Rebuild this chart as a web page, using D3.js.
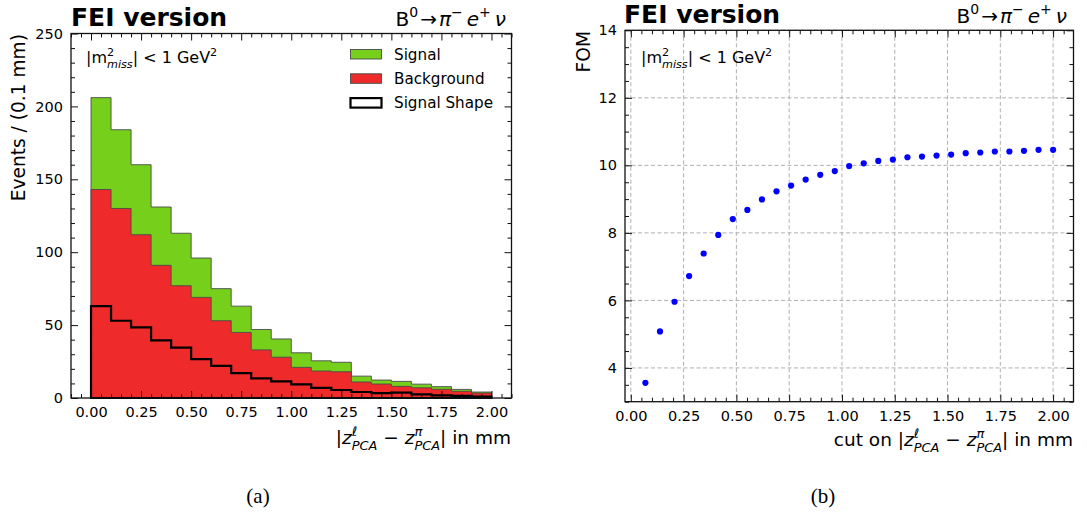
<!DOCTYPE html>
<html>
<head>
<meta charset="utf-8">
<script src="https://cdn.jsdelivr.net/npm/d3@7"></script>
<style>
  body { margin: 0; background: #fff; }
  svg { display: block; }
  text { font-family: "DejaVu Sans", sans-serif; fill: #000; white-space: pre; }
</style>
</head>
<body>
<svg id="fig" width="1087" height="516"></svg>
<script>
// ---- histogram data: |z_PCA^l - z_PCA^pi| in bins of 0.1 mm ----
const binEdges = [0.0, 0.1, 0.2, 0.3, 0.4, 0.5, 0.6, 0.7, 0.8, 0.9, 1.0,
                  1.1, 1.2, 1.3, 1.4, 1.5, 1.6, 1.7, 1.8, 1.9, 2.0];
const backgroundCounts = [143, 130, 112, 91, 77, 69, 53, 45, 33, 28,
                          21, 18.5, 18, 11, 9.6, 8, 7, 6, 4.6, 3.4];
const signalCounts = [63, 54, 48, 40, 36, 27, 22, 18, 14, 12.5,
                      10, 7, 6.5, 4, 2.7, 3.4, 2.5, 1.8, 1.3, 0.7];
const signalShape = [63, 53, 48.5, 39.5, 34.5, 26.7, 22, 17, 13.5, 11.4,
                     9.4, 7, 5.5, 4.1, 3.4, 3.7, 2.5, 1.8, 1.4, 0.9];

// ---- figure of merit versus the cut value ----
const cutValues = [0.069, 0.138, 0.207, 0.276, 0.345, 0.414, 0.483, 0.552, 0.621, 0.690,
                   0.759, 0.828, 0.897, 0.966, 1.034, 1.103, 1.172, 1.241, 1.310, 1.379,
                   1.448, 1.517, 1.586, 1.655, 1.724, 1.793, 1.862, 1.931, 2.000];
const fomValues = [3.56, 5.08, 5.96, 6.72, 7.39, 7.94, 8.41, 8.68, 8.99, 9.23,
                   9.40, 9.58, 9.72, 9.83, 9.98, 10.06, 10.13, 10.17, 10.24, 10.26,
                   10.29, 10.32, 10.36, 10.38, 10.41, 10.41, 10.43, 10.46, 10.46];

// ---- tick labels ----
const xTicks = [0.00, 0.25, 0.50, 0.75, 1.00, 1.25, 1.50, 1.75, 2.00];
const histYTicks = [0, 50, 100, 150, 200, 250];
const fomYTicks = [4, 6, 8, 10, 12, 14];
const legendLabels = ["Signal", "Background", "Signal Shape"];

const GREEN = "#76d01b", RED = "#ee2a2b", EDGE = "#4a4a4a";
const svg = d3.select("#fig");

// Lays out a mathtext-like label (italics, super/subscripts, stacked scripts).
function mathText(parent, parts, opt) {
  const g = parent.append("g")
    .attr("transform", `translate(${opt.x},${opt.y})` + (opt.rotate ? ` rotate(${opt.rotate})` : ""));
  const inner = g.append("g");
  let cx = 0, lastStart = 0, lastEnd = 0;
  parts.forEach(p => {
    const fs = p.s ? opt.size * 0.7 : opt.size;
    const dy = p.s === "sup" ? -opt.size * 0.42 : p.s === "sub" ? opt.size * 0.3 : 0;
    const start = p.stack ? lastStart : cx;
    const t = inner.append("text")
      .attr("x", start).attr("y", dy)
      .attr("font-size", fs)
      .style("font-style", p.it ? "italic" : "normal")
      .style("font-weight", opt.bold ? "bold" : "normal")
      .text(p.t);
    const w = t.node().getComputedTextLength();
    const end = start + w;
    cx = p.stack ? Math.max(lastEnd, end) : end;
    if (!p.stack) lastStart = start;
    lastEnd = cx;
  });
  const shift = opt.anchor === "end" ? -cx : opt.anchor === "middle" ? -cx / 2 : 0;
  inner.attr("transform", `translate(${shift},0)`);
  return g;
}

// Inward ticks on all four sides, major with labels on bottom/left.
function drawFrame(g, x, y, xMajor, xMinor, yMajor, yMinor, yFmt, box) {
  const tickFont = 14.5;
  const addAxis = (axis, tr, labels) => {
    const a = g.append("g").attr("transform", tr).call(axis);
    a.select(".domain").remove();
    a.selectAll("line").attr("stroke", "#111").attr("stroke-width", 1);
    a.selectAll("text").attr("font-size", tickFont).attr("fill", "#000")
      .style("font-family", "DejaVu Sans");
    if (!labels) a.selectAll("text").remove();
    return a;
  };
  const xMinorOnly = xMinor.filter(v => !xMajor.some(m => Math.abs(m - v) < 1e-9));
  const yMinorOnly = yMinor.filter(v => !yMajor.some(m => Math.abs(m - v) < 1e-9));
  // bottom
  addAxis(d3.axisBottom(x).tickValues(xMajor).tickFormat(d3.format(".2f")).tickSizeInner(-7).tickSizeOuter(0).tickPadding(9), `translate(0,${box.b})`, true);
  addAxis(d3.axisBottom(x).tickValues(xMinorOnly).tickSizeInner(-4).tickSizeOuter(0), `translate(0,${box.b})`, false);
  // top
  addAxis(d3.axisTop(x).tickValues(xMajor).tickSizeInner(-7).tickSizeOuter(0), `translate(0,${box.t})`, false);
  addAxis(d3.axisTop(x).tickValues(xMinorOnly).tickSizeInner(-4).tickSizeOuter(0), `translate(0,${box.t})`, false);
  // left
  addAxis(d3.axisLeft(y).tickValues(yMajor).tickFormat(yFmt).tickSizeInner(-7).tickSizeOuter(0).tickPadding(8), `translate(${box.l},0)`, true);
  addAxis(d3.axisLeft(y).tickValues(yMinorOnly).tickSizeInner(-4).tickSizeOuter(0), `translate(${box.l},0)`, false);
  // right
  addAxis(d3.axisRight(y).tickValues(yMajor).tickSizeInner(-7).tickSizeOuter(0), `translate(${box.r},0)`, false);
  addAxis(d3.axisRight(y).tickValues(yMinorOnly).tickSizeInner(-4).tickSizeOuter(0), `translate(${box.r},0)`, false);
  g.append("rect")
    .attr("x", box.l).attr("y", box.t)
    .attr("width", box.r - box.l).attr("height", box.b - box.t)
    .attr("fill", "none").attr("stroke", "#111").attr("stroke-width", 1.3);
}

const xLabelParts = [
  { t: "|" }, { t: "z", it: true }, { t: "\u2113", it: true, s: "sup" }, { t: "PCA", it: true, s: "sub", stack: true },
  { t: " \u2212 " }, { t: "z", it: true }, { t: "\u03c0", it: true, s: "sup" }, { t: "PCA", it: true, s: "sub", stack: true },
  { t: "| in mm" }
];
const decayParts = [
  { t: "B" }, { t: "0", s: "sup" }, { t: "\u200a\u2192\u200a" }, { t: "\u03c0", it: true }, { t: "\u2212", s: "sup" },
  { t: "\u2009" }, { t: "e", it: true }, { t: "+", s: "sup" }, { t: "\u2009" }, { t: "\u03bd", it: true }
];
const cutParts = [
  { t: "|m" }, { t: "2", s: "sup" }, { t: "miss", it: true, s: "sub", stack: true },
  { t: "| < 1 GeV" }, { t: "2", s: "sup" }
];

// ================= panel (a): stacked histogram =================
{
  const box = { l: 71, r: 511.5, t: 33.5, b: 398 };
  const x = d3.scaleLinear().domain([-0.1, 2.1]).range([box.l, box.r]);
  const y = d3.scaleLinear().domain([0, 250]).range([box.b, box.t]);
  const g = svg.append("g");

  const stepArea = (vals) => {
    const pts = [[binEdges[0], 0]];
    vals.forEach((v, i) => { pts.push([binEdges[i], v]); pts.push([binEdges[i + 1], v]); });
    pts.push([binEdges[binEdges.length - 1], 0]);
    return d3.line().x(d => x(d[0])).y(d => y(d[1]))(pts) + "Z";
  };
  const totals = backgroundCounts.map((b, i) => b + signalCounts[i]);

  g.append("path").attr("d", stepArea(totals))
    .attr("fill", GREEN).attr("stroke", EDGE).attr("stroke-width", 0.9);
  g.append("path").attr("d", stepArea(backgroundCounts))
    .attr("fill", RED).attr("stroke", EDGE).attr("stroke-width", 0.9);
  g.append("path").attr("d", stepArea(signalShape))
    .attr("fill", "none").attr("stroke", "#000").attr("stroke-width", 2.2)
    .attr("stroke-linejoin", "miter");

  drawFrame(g, x, y, xTicks, d3.range(-0.1, 2.1001, 0.05).map(v => +v.toFixed(2)),
    histYTicks, d3.range(0, 250.1, 10), d3.format("d"), box);

  // legend
  const leg = g.append("g");
  const legStyles = [
    { fill: GREEN, stroke: EDGE, sw: 0.9 },
    { fill: RED, stroke: EDGE, sw: 0.9 },
    { fill: "#fff", stroke: "#000", sw: 2.2 }
  ];
  legendLabels.forEach((lab, i) => {
    const cy = 54 + i * 24.3;
    leg.append("rect").attr("x", 350.5).attr("y", cy - 4.5).attr("width", 31).attr("height", 9.5)
      .attr("fill", legStyles[i].fill).attr("stroke", legStyles[i].stroke).attr("stroke-width", legStyles[i].sw);
    leg.append("text").attr("x", 394).attr("y", cy + 5.6).attr("font-size", 15.2).text(lab);
  });

  mathText(g, cutParts, { x: 86, y: 63, size: 16 });
  mathText(g, [{ t: "FEI version" }], { x: 71, y: 25.5, size: 25, bold: true });
  mathText(g, decayParts, { x: 506, y: 25.5, size: 20, anchor: "end" });
  mathText(g, xLabelParts, { x: 511, y: 444, size: 18.5, anchor: "end" });
  mathText(g, [{ t: "Events / (0.1 mm)" }], { x: 25, y: 34, size: 18.6, anchor: "end", rotate: -90 });
  svg.append("text").attr("x", 258).attr("y", 503).attr("text-anchor", "middle")
    .attr("font-size", 21).style("font-family", "Liberation Serif").text("(a)");
}

// ================= panel (b): figure of merit =================
{
  const box = { l: 625, r: 1073.5, t: 30.3, b: 401.7 };
  const x = d3.scaleLinear().domain([-0.0276, 2.0966]).range([box.l, box.r]);
  const y = d3.scaleLinear().domain([3, 14]).range([box.b, box.t]);
  const g = svg.append("g");

  // dashed grid at major ticks
  const grid = g.append("g").attr("stroke", "#b0b0b0").attr("stroke-width", 1).attr("stroke-dasharray", "4,2.5");
  xTicks.forEach(v => grid.append("line").attr("x1", x(v)).attr("x2", x(v)).attr("y1", box.t).attr("y2", box.b));
  fomYTicks.forEach(v => grid.append("line").attr("x1", box.l).attr("x2", box.r).attr("y1", y(v)).attr("y2", y(v)));

  g.append("g").selectAll("circle").data(cutValues).join("circle")
    .attr("cx", d => x(d)).attr("cy", (d, i) => y(fomValues[i])).attr("r", 3.1)
    .attr("fill", "#0000ff");

  drawFrame(g, x, y, xTicks, d3.range(0, 2.0501, 0.05).map(v => +v.toFixed(2)),
    fomYTicks, d3.range(3, 14.01, 0.5), d3.format("d"), box);

  mathText(g, cutParts, { x: 641, y: 63, size: 16 });
  mathText(g, [{ t: "FEI version" }], { x: 624, y: 22.5, size: 25, bold: true });
  mathText(g, decayParts, { x: 1067, y: 22.5, size: 20, anchor: "end" });
  mathText(g, [{ t: "cut on " }].concat(xLabelParts), { x: 1073, y: 446, size: 18.5, anchor: "end" });
  mathText(g, [{ t: "FOM" }], { x: 590, y: 31, size: 18.6, anchor: "end", rotate: -90 });
  svg.append("text").attr("x", 823).attr("y", 503).attr("text-anchor", "middle")
    .attr("font-size", 21).style("font-family", "Liberation Serif").text("(b)");
}
</script>
</body>
</html>
